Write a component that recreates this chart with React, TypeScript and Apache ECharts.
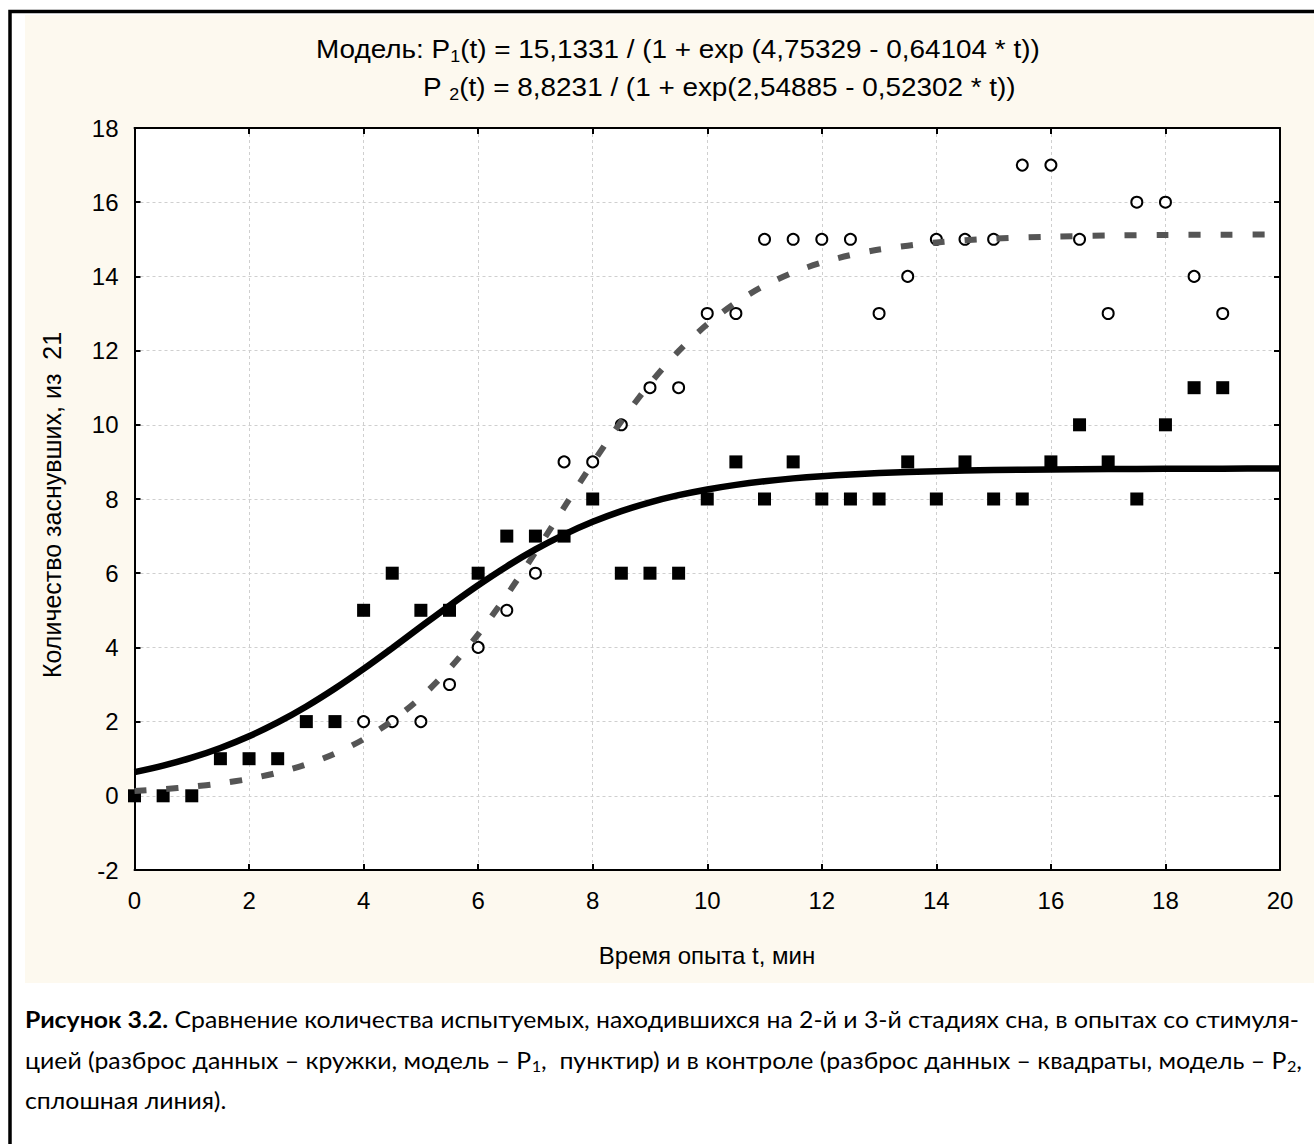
import React, { useEffect, useRef } from "react";
import * as echarts from "echarts";

// ---- data ----
const xTicks = [0, 2, 4, 6, 8, 10, 12, 14, 16, 18, 20];
const yTicks = [-2, 0, 2, 4, 6, 8, 10, 12, 14, 16, 18];

// stimulation (circles)
const circleT = [4, 4.5, 5, 5.5, 6, 6.5, 7, 7.5, 8, 8.5, 9, 9.5, 10, 10.5, 11, 11.5, 12, 12.5, 13, 13.5, 14, 14.5, 15, 15.5, 16, 16.5, 17, 17.5, 18, 18.5, 19];
const circleY = [2, 2, 2, 3, 4, 5, 6, 9, 9, 10, 11, 11, 13, 13, 15, 15, 15, 15, 13, 14, 15, 15, 15, 17, 17, 15, 13, 16, 16, 14, 13];

// control (squares)
const squareT = [0, 0.5, 1, 1.5, 2, 2.5, 3, 3.5, 4, 4.5, 5, 5.5, 6, 6.5, 7, 7.5, 8, 8.5, 9, 9.5, 10, 10.5, 11, 11.5, 12, 12.5, 13, 13.5, 14, 14.5, 15, 15.5, 16, 16.5, 17, 17.5, 18, 18.5, 19];
const squareY = [0, 0, 0, 1, 1, 1, 2, 2, 5, 6, 5, 5, 6, 7, 7, 7, 8, 6, 6, 6, 8, 9, 8, 9, 8, 8, 8, 9, 8, 9, 8, 8, 9, 10, 9, 8, 10, 11, 11];

// model curves (values of the printed models P1, P2)
const fitT = [0, 0.5, 1, 1.5, 2, 2.5, 3, 3.5, 4, 4.5, 5, 5.5, 6, 6.5, 7, 7.5, 8, 8.5, 9, 9.5, 10, 10.5, 11, 11.5, 12, 12.5, 13, 14, 15, 16, 17, 18, 19, 20];
const p1Fit = [0.1294, 0.1777, 0.2438, 0.3338, 0.4562, 0.6214, 0.8431, 1.1378, 1.5244, 2.0234, 2.6538, 3.4293, 4.3524, 5.4091, 6.5661, 7.7727, 8.9689, 10.0968, 11.1108, 11.9843, 12.7095, 13.2933, 13.7519, 14.1049, 14.3727, 14.5735, 14.7228, 14.9142, 15.017, 15.0717, 15.1007, 15.116, 15.1241, 15.1284];
const p2Fit = [0.6397, 0.8133, 1.028, 1.2904, 1.6059, 1.9782, 2.4081, 2.892, 3.4212, 3.9822, 4.5576, 5.1281, 5.675, 6.1826, 6.6399, 7.0408, 7.3841, 7.6719, 7.9094, 8.1025, 8.2577, 8.3813, 8.479, 8.5558, 8.6159, 8.6627, 8.6991, 8.7492, 8.7791, 8.797, 8.8076, 8.8139, 8.8177, 8.8199];

const xName = "Время опыта t, мин";
const yName = "Количество заснувших, из  21";

const AR = "'Liberation Sans', Arial, sans-serif";
const CAP = "Lato, 'Open Sans', sans-serif";

type Seg = { text: string; font: string; dy?: number };

export default function App() {
  const ref = useRef<HTMLDivElement>(null);
  useEffect(() => {
    const chart = echarts.init(ref.current!, undefined, { renderer: "svg" });
    const canvas = document.createElement("canvas");
    const ctx = canvas.getContext("2d")!;
    const mw = (t: string, font: string) => {
      ctx.font = font;
      return ctx.measureText(t).width;
    };
    const buildLine = (segs: Seg[], x0: number, y: number, target: number | null, scale?: number) => {
      let x = 0;
      const children: any[] = [];
      segs.forEach((s) => {
        const lead = s.text.length - s.text.trimStart().length;
        const xoff = lead ? mw(s.text.slice(0, lead), s.font) : 0;
        const shown = s.text.trim();
        if (shown.length) {
          children.push({
            type: "text",
            x: x + xoff,
            y: s.dy || 0,
            style: {
              text: shown,
              font: s.font,
              fill: "#000",
              textAlign: "left",
              textVerticalAlign: "middle",
              align: "left",
              verticalAlign: "middle",
            },
          });
        }
        x += mw(s.text, s.font);
      });
      const sx = target ? target / x : scale || 1;
      return { el: { type: "group", x: x0, y, scaleX: sx, scaleY: 1, children }, sx };
    };

    const tMain = `25px ${AR}`;
    const tSub = `16px ${AR}`;
    const title1 = buildLine(
      [
        { text: "Модель: P", font: tMain },
        { text: "1", font: tSub, dy: 7 },
        { text: "(t) = 15,1331 / (1 + exp (4,75329 - 0,64104 * t))", font: tMain },
      ],
      316, 50, 724
    );
    const title2 = buildLine(
      [
        { text: "P ", font: tMain },
        { text: "2", font: tSub, dy: 7 },
        { text: "(t) = 8,8231 / (1 + exp(2,54885 - 0,52302 * t))", font: tMain },
      ],
      423, 88, null, title1.sx
    );

    const cMain = `23px ${CAP}`;
    const cBold = `bold 23px ${CAP}`;
    const cSub = `15px ${CAP}`;
    const cap1 = buildLine(
      [
        { text: "Рисунок 3.2.", font: cBold },
        { text: " Сравнение количества испытуемых, находившихся на 2-й и 3-й стадиях сна, в опытах со стимуля-", font: cMain },
      ],
      25, 1019, 1275
    );
    const cap2 = buildLine(
      [
        { text: "цией (разброс данных – кружки, модель – P", font: cMain },
        { text: "1", font: cSub, dy: 6 },
        { text: ",  пунктир) и в контроле (разброс данных – квадраты, модель – P", font: cMain },
        { text: "2", font: cSub, dy: 6 },
        { text: ",", font: cMain },
      ],
      25, 1060, 1277
    );
    const cap3 = buildLine(
      [{ text: "сплошная линия).", font: cMain }],
      25, 1100, null, (cap1.sx + cap2.sx) / 2
    );

    const axisLine = { show: true, onZero: false, lineStyle: { color: "#000", width: 2 } };
    const axisTick = { show: true, inside: true, length: 6, lineStyle: { color: "#000", width: 2 } };
    const split = { show: true, lineStyle: { color: "#cfcfcf", width: 1, type: [3, 3] } };
    const xMin = xTicks[0], xMax = xTicks[xTicks.length - 1], xInt = xTicks[1] - xTicks[0];
    const yMin = yTicks[0], yMax = yTicks[yTicks.length - 1], yInt = yTicks[1] - yTicks[0];

    chart.setOption({
      animation: false,
      backgroundColor: "#ffffff",
      grid: { left: 134.5, top: 128, width: 1145.5, height: 742, show: true, backgroundColor: "#ffffff", borderWidth: 0 },
      xAxis: [
        {
          type: "value", position: "bottom", min: xMin, max: xMax, interval: xInt,
          axisLine, axisTick, splitLine: split,
          axisLabel: { color: "#000", fontSize: 24, fontFamily: AR, margin: 18 },
        },
        {
          type: "value", position: "top", min: xMin, max: xMax, interval: xInt,
          axisLine, axisTick, splitLine: { show: false }, axisLabel: { show: false },
        },
      ],
      yAxis: [
        {
          type: "value", position: "left", min: yMin, max: yMax, interval: yInt,
          axisLine, axisTick, splitLine: split,
          axisLabel: { color: "#000", fontSize: 24, fontFamily: AR, margin: 16 },
        },
        {
          type: "value", position: "right", min: yMin, max: yMax, interval: yInt,
          axisLine, axisTick, splitLine: { show: false }, axisLabel: { show: false },
        },
      ],
      graphic: [
        { type: "rect", z: -10, silent: true, shape: { x: 25, y: 15, width: 1300, height: 968 }, style: { fill: "#fdf9ef" } },
        { type: "rect", z: -9, silent: true, shape: { x: 10, y: 11.5, width: 1400, height: 1300 }, style: { fill: "none", stroke: "#000", lineWidth: 3.5 } },
        title1.el,
        title2.el,
        {
          type: "text", x: 52, y: 505, rotation: Math.PI / 2,
          style: { text: yName, font: `25px ${AR}`, fill: "#000", textAlign: "center", textVerticalAlign: "middle", align: "center", verticalAlign: "middle" },
        },
        {
          type: "text", x: 707, y: 955,
          style: { text: xName, font: `24px ${AR}`, fill: "#000", textAlign: "center", textVerticalAlign: "middle", align: "center", verticalAlign: "middle" },
        },
        cap1.el,
        cap2.el,
        cap3.el,
      ],
      series: [
        {
          type: "scatter", name: "stim", xAxisIndex: 0, yAxisIndex: 0,
          data: circleT.map((t, i) => [t, circleY[i]]),
          symbol: "circle", symbolSize: 11,
          itemStyle: { color: "#ffffff", borderColor: "#000", borderWidth: 2, opacity: 1 }, z: 3,
        },
        {
          type: "scatter", name: "control", xAxisIndex: 0, yAxisIndex: 0,
          data: squareT.map((t, i) => [t, squareY[i]]),
          symbol: "rect", symbolSize: 13,
          itemStyle: { color: "#000", opacity: 1 }, z: 3,
        },
        {
          type: "line", name: "P1", xAxisIndex: 0, yAxisIndex: 0,
          data: fitT.map((t, i) => [t, p1Fit[i]]),
          showSymbol: false, smooth: 0.3,
          lineStyle: { color: "#555555", width: 6, type: [12, 20] }, z: 4,
        },
        {
          type: "line", name: "P2", xAxisIndex: 0, yAxisIndex: 0,
          data: fitT.map((t, i) => [t, p2Fit[i]]),
          showSymbol: false, smooth: 0.3,
          lineStyle: { color: "#000", width: 6.5 }, z: 4,
        },
      ],
    });
    return () => chart.dispose();
  }, []);
  return <div ref={ref} style={{ position: "absolute", left: 0, top: 0, width: 1314, height: 1144 }} />;
}
